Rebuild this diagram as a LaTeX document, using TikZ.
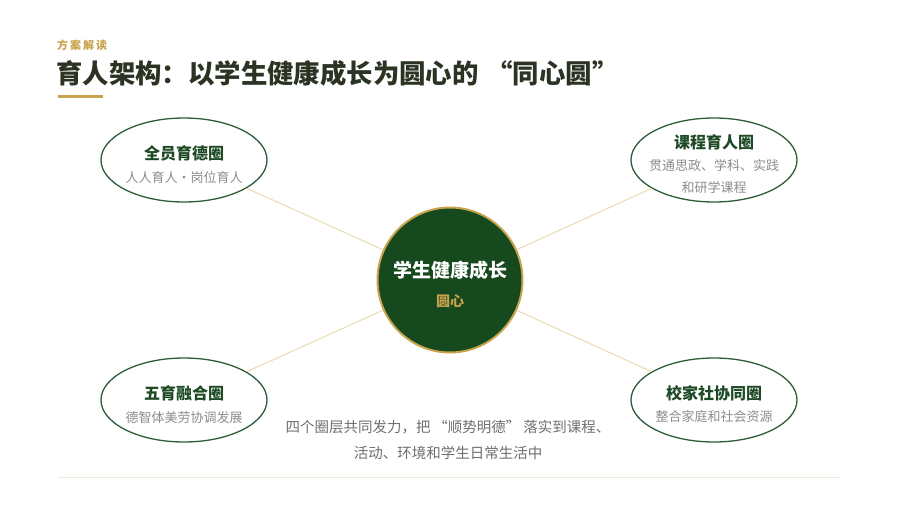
\documentclass[tikz,border=0pt]{standalone}
\usepackage{fontspec}
\setmainfont{Noto Sans CJK SC}
\usetikzlibrary{shapes.geometric}
\definecolor{deepgreen}{HTML}{17491F}
\definecolor{ringgreen}{HTML}{2E5C37}
\definecolor{headgreen}{HTML}{1E4A26}
\definecolor{gold}{HTML}{C9A24E}
\definecolor{paleline}{HTML}{EAD9B2}
\definecolor{subgray}{HTML}{8C8C8C}
\definecolor{titledark}{HTML}{2B3323}
\definecolor{bodygray}{HTML}{6E6E6E}
\definecolor{rulebeige}{HTML}{EEE8DA}

\begin{document}
\begin{tikzpicture}[x=1pt, y=-1pt,
   ring_style/.style={ellipse, draw=ringgreen, line width=1.3pt, minimum width=166pt, minimum height=84pt, inner sep=0pt},
   head_style/.style={text=headgreen, font=\fontsize{16}{18}\selectfont\bfseries, inner sep=0pt},
   sub_style/.style={text=subgray, font=\fontsize{13}{22}\selectfont, inner sep=0pt, align=center},
   edge_style/.style={draw=paleline, line width=1pt}]
	  \useasboundingbox (0,0) rectangle (900,506);

	  % heading
	  \node [anchor=west, inner sep=0pt, text=titledark, font=\fontsize{26.4}{30}\selectfont\bfseries] (title) at (56,73) {育人架构：以学生健康成长为圆心的\hspace{0.3em}“同心圆”};
	  \node [anchor=west, inner sep=0pt, text=gold, font=\fontsize{11}{13}\selectfont\bfseries\addfontfeature{LetterSpace=18}] (kicker) at (57,45) {方案解读};
	  \draw [gold, line width=3pt] (58,96) -- (103,96);

	  % centre and rings
	  \node [circle, draw=gold, line width=2pt, fill=deepgreen, minimum size=145pt, inner sep=0pt] (c0) at (450,280) {};
	  \node [ring_style] (r1) at (184,160) {};
	  \node [ring_style] (r2) at (714,160) {};
	  \node [ring_style] (r3) at (184,400) {};
	  \node [ring_style] (r4) at (714,400) {};

	  \foreach \ring in {r1,r2,r3,r4}
	    \draw [edge_style] (c0) -- (\ring);

	  \node [text=white, inner sep=0pt, font=\fontsize{19}{22}\selectfont\bfseries] (c0head) at (450,270) {学生健康成长};
	  \node [text=gold, inner sep=0pt, font=\fontsize{14}{16}\selectfont\bfseries] (c0sub) at (450,301) {圆心};

	  \node [head_style] (r1head) at (184,153) {全员育德圈};
	  \node [sub_style] (r1sub) at (184,178) {人人育人·岗位育人};
	  \node [head_style] (r2head) at (714,142) {课程育人圈};
	  \node [sub_style] (r2sub) at (714,177) {贯通思政、学科、实践\\和研学课程};
	  \node [head_style] (r3head) at (184,393) {五育融合圈};
	  \node [sub_style] (r3sub) at (184,418) {德智体美劳协调发展};
	  \node [head_style] (r4head) at (714,393) {校家社协同圈};
	  \node [sub_style] (r4sub) at (714,417) {整合家庭和社会资源};

	  % closing note
	  \node [text=bodygray, inner sep=0pt, align=center, font=\fontsize{14.5}{26}\selectfont] (note) at (448,440) {四个圈层共同发力，把\hspace{0.2em}“顺势明德”\hspace{0.2em}落实到课程、\\活动、环境和学生日常生活中};
	  \draw [rulebeige, line width=1pt] (58,477) -- (840,477);
	\end{tikzpicture}
\end{document}
